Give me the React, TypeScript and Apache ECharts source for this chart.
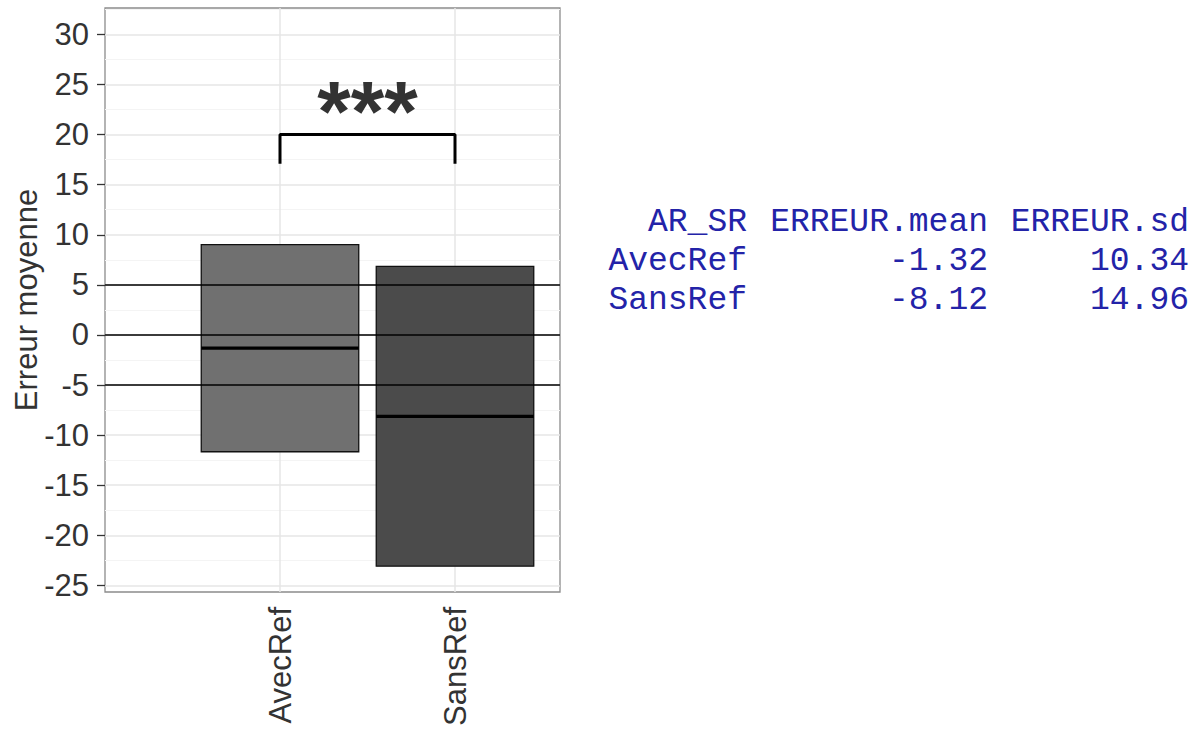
import React, { useEffect, useRef } from "react";
import * as echarts from "echarts";

const categories = ["AvecRef", "SansRef"];
const means = [-1.32, -8.12];
const sds = [10.34, 14.96];
const fills = ["#707070", "#4b4b4b"];
const yTicks = [-25, -20, -15, -10, -5, 0, 5, 10, 15, 20, 25, 30];
const yMinor = [-22.5, -17.5, -12.5, -7.5, -2.5, 2.5, 7.5, 12.5, 17.5, 22.5, 27.5, 32.5];
const xTicks = [1, 2];
const refLines = [5, 0, -5];
const bracketX = [1, 2];
const bracketTop = 20;
const bracketBottom = 17.1;
const signifLabel = "***";
const signifY = 22.4;
const tableHeader = ["AR_SR", "ERREUR.mean", "ERREUR.sd"];

const FONT = "'Liberation Sans', Arial, sans-serif";
const MONO = "'Courier New', 'Liberation Mono', monospace";
const TXT = "#333333";
const BLUE = "#2323a8";

export default function App() {
  const ref = useRef<HTMLDivElement>(null);
  useEffect(() => {
    document.body.style.margin = "0";
    const chart = echarts.init(ref.current!, null, { renderer: "svg" });

    const boxData = categories.map((c, i) => [
      i + 1,
      means[i] - sds[i],
      means[i] + sds[i],
      means[i],
    ]);

    const gridLines: any[] = [];
    yMinor.forEach((v) =>
      gridLines.push({ yAxis: v, lineStyle: { color: "#f4f4f4", width: 1, type: "solid" } })
    );
    yTicks.forEach((v) =>
      gridLines.push({ yAxis: v, lineStyle: { color: "#e6e6e6", width: 1.5, type: "solid" } })
    );
    xTicks.forEach((v) =>
      gridLines.push({ xAxis: v, lineStyle: { color: "#e6e6e6", width: 1.5, type: "solid" } })
    );

    const colRight = [747, 988, 1189];
    const rowY = [222, 261, 300];
    const rows: string[][] = [tableHeader];
    categories.forEach((c, i) => rows.push([c, means[i].toFixed(2), sds[i].toFixed(2)]));
    const tableEls: any[] = [];
    rows.forEach((r, ri) =>
      r.forEach((cell, ci) =>
        tableEls.push({
          type: "text",
          x: colRight[ci],
          y: rowY[ri],
          style: {
            text: cell,
            fontSize: 33,
            fontFamily: MONO,
            fill: BLUE,
            align: "right",
            textAlign: "right",
            verticalAlign: "middle",
            textVerticalAlign: "middle",
          },
        })
      )
    );

    chart.setOption({
      animation: false,
      grid: {
        left: 105,
        top: 8,
        width: 455,
        height: 584,
        show: true,
        borderColor: "#8c8c8c",
        borderWidth: 1.3,
        backgroundColor: "#ffffff",
      },
      xAxis: {
        type: "value",
        min: 0,
        max: 2.6,
        axisLine: { show: false },
        splitLine: { show: false },
        axisTick: {
          show: true,
          customValues: xTicks,
          length: 8,
          lineStyle: { color: TXT, width: 1.3 },
        },
        axisLabel: {
          customValues: xTicks,
          rotate: 90,
          margin: 15,
          fontSize: 31,
          fontFamily: FONT,
          color: TXT,
          formatter: (v: number) => categories[Math.round(v) - 1] ?? "",
        },
      },
      yAxis: {
        type: "value",
        min: -25.66,
        max: 32.64,
        axisLine: { show: false },
        splitLine: { show: false },
        axisTick: {
          show: true,
          customValues: yTicks,
          length: 8,
          lineStyle: { color: TXT, width: 1.3 },
        },
        axisLabel: {
          customValues: yTicks,
          margin: 16,
          fontSize: 31,
          fontFamily: FONT,
          color: TXT,
        },
      },
      series: [
        {
          type: "line",
          data: [],
          z: 1,
          silent: true,
          markLine: {
            z: 1,
            silent: true,
            symbol: ["none", "none"],
            label: { show: false },
            data: gridLines,
          },
        },
        {
          type: "custom",
          z: 3,
          data: boxData,
          encode: { x: 0, y: [1, 2, 3] },
          renderItem: (params: any, api: any) => {
            const x = api.value(0);
            const lo = api.value(1);
            const hi = api.value(2);
            const m = api.value(3);
            const p1 = api.coord([x - 0.45, hi]);
            const p2 = api.coord([x + 0.45, lo]);
            const q1 = api.coord([x - 0.45, m]);
            const q2 = api.coord([x + 0.45, m]);
            return {
              type: "group",
              children: [
                {
                  type: "rect",
                  shape: { x: p1[0], y: p1[1], width: p2[0] - p1[0], height: p2[1] - p1[1] },
                  style: { fill: fills[params.dataIndex], stroke: "#111111", lineWidth: 1.3 },
                },
                {
                  type: "line",
                  shape: { x1: q1[0], y1: q1[1], x2: q2[0], y2: q2[1] },
                  style: { stroke: "#000000", lineWidth: 3.2 },
                },
              ],
            };
          },
        },
        {
          type: "line",
          data: [],
          z: 6,
          silent: true,
          markLine: {
            z: 6,
            silent: true,
            symbol: ["none", "none"],
            label: { show: false },
            lineStyle: { color: "#000000", width: 1.5, type: "solid" },
            data: refLines.map((v) => ({ yAxis: v })),
          },
        },
        {
          type: "line",
          z: 7,
          silent: true,
          symbol: "none",
          lineStyle: { color: "#000000", width: 3 },
          data: [
            [bracketX[0], bracketBottom],
            [bracketX[0], bracketTop],
            [bracketX[1], bracketTop],
            [bracketX[1], bracketBottom],
          ],
        },
        {
          type: "scatter",
          z: 8,
          silent: true,
          symbolSize: 0,
          itemStyle: { opacity: 1 },
          data: [[(bracketX[0] + bracketX[1]) / 2, signifY]],
          label: {
            show: true,
            position: "inside",
            formatter: signifLabel,
            fontSize: 86,
            fontWeight: "bold",
            fontFamily: FONT,
            color: TXT,
            opacity: 1,
          },
        },
      ],
      graphic: [
        {
          type: "text",
          x: 26,
          y: 300,
          rotation: Math.PI / 2,
          style: {
            text: "Erreur moyenne",
            fontSize: 31,
            fontFamily: FONT,
            fill: TXT,
            align: "center",
            textAlign: "center",
            verticalAlign: "middle",
            textVerticalAlign: "middle",
          },
        },
        ...tableEls,
      ],
    });
    return () => chart.dispose();
  }, []);
  return (
    <div
      ref={ref}
      style={{ position: "absolute", left: 0, top: 0, width: 1199, height: 729 }}
    />
  );
}
